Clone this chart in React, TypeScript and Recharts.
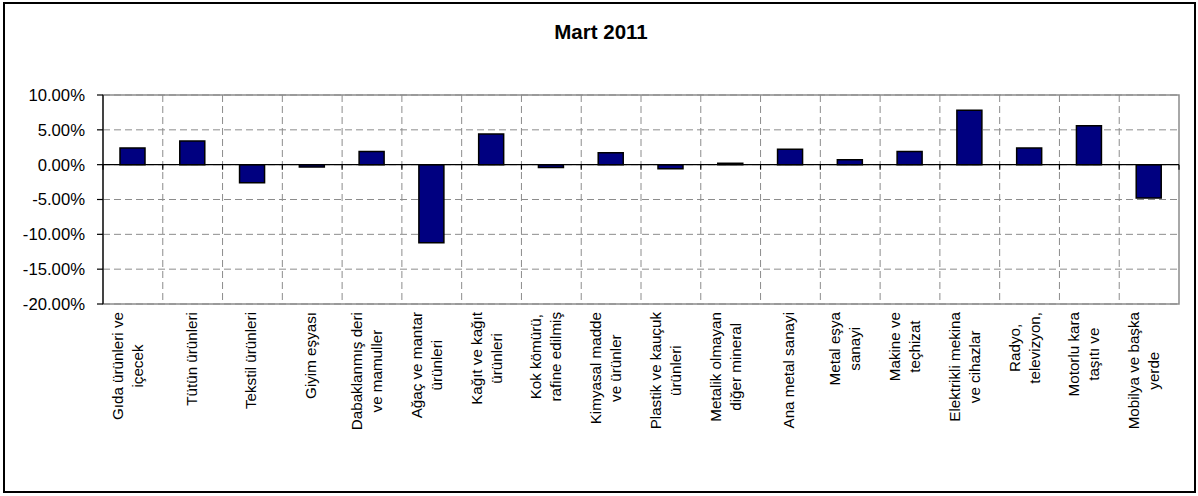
import React from 'react';
import {
  BarChart,
  Bar,
  XAxis,
  YAxis,
  CartesianGrid,
  ReferenceLine,
  ReferenceArea,
} from 'recharts';

// sector names, "\n" marks where the label wraps
const categories = [
  'Gıda ürünleri ve\niçecek',
  'Tütün ürünleri',
  'Tekstil ürünleri',
  'Giyim eşyası',
  'Dabaklanmış deri\nve mamuller',
  'Ağaç ve mantar\nürünleri',
  'Kağıt ve kağıt\nürünleri',
  'Kok kömürü,\nrafine edilmiş',
  'Kimyasal madde\nve ürünler',
  'Plastik ve kauçuk\nürünleri',
  'Metalik olmayan\ndiğer mineral',
  'Ana metal sanayi',
  'Metal eşya\nsanayi',
  'Makine ve\nteçhizat',
  'Elektrikli mekina\nve cihazlar',
  'Radyo,\ntelevizyon,',
  'Motorlu kara\ntaşıtı ve',
  'Mobilya ve başka\nyerde',
];

// change in percent, March 2011
const values = [2.4, 3.4, -2.6, -0.35, 1.9, -11.2, 4.4, -0.4, 1.7, -0.6, 0.2, 2.2, 0.7, 1.9, 7.8, 2.4, 5.6, -4.8];

const yTicks = [-20, -15, -10, -5, 0, 5, 10];

const data = categories.map((name, i) => ({ name, value: values[i] }));

const FONT = '"Liberation Sans", Arial, sans-serif';
const LABEL_SIZE = 15.2;
const LINE_GAP = 20;

const ctx = document.createElement('canvas').getContext('2d');
const measure = (s: string) => {
  if (!ctx) return s.length * LABEL_SIZE * 0.5;
  ctx.font = `${LABEL_SIZE}px "Liberation Sans"`;
  return ctx.measureText(s).width;
};

const CategoryTick = (props: any) => {
  const { x, y, payload } = props;
  const lines = String(payload.value).split('\n');
  const longest = Math.max(...lines.map(measure));
  const cy = y + longest / 2;
  const shift = lines.length > 1 ? 0 : 4;
  return (
    <g>
      {lines.map((line, i) => {
        const bx = x + shift + (i - (lines.length - 1) / 2) * LINE_GAP;
        return (
          <text
            key={i}
            x={0}
            y={0}
            transform={`translate(${bx},${cy}) rotate(-90)`}
            textAnchor="middle"
            fontFamily={FONT}
            fontSize={LABEL_SIZE}
            fill="#000"
          >
            {line}
          </text>
        );
      })}
    </g>
  );
};

// zero line with the little category ticks hanging under it
const ZeroLine = (props: any) => {
  const { x1, y1, x2, y2 } = props;
  const n = categories.length;
  const step = (x2 - x1) / n;
  const marks = [];
  for (let i = 0; i <= n; i++) {
    const xx = x1 + i * step;
    marks.push(<line key={i} x1={xx} x2={xx} y1={y1} y2={y1 + 5} stroke="#000" strokeWidth={1.2} />);
  }
  return (
    <g>
      <line x1={x1} y1={y1} x2={x2} y2={y2} stroke="#000" strokeWidth={1.2} />
      {marks}
    </g>
  );
};

export default function App() {
  return (
    <div style={{ position: 'absolute', left: 0, top: 0, width: 1198, height: 496, background: '#fff' }}>
      <div
        style={{
          position: 'absolute',
          left: 3,
          top: 2,
          width: 1189,
          height: 487,
          border: '2px solid #000',
        }}
      />
      <svg width={1198} height={60} style={{ position: 'absolute', left: 0, top: 0 }}>
        <text x={601} y={39} textAnchor="middle" fontFamily={FONT} fontWeight="bold" fontSize={20.5} fill="#000">
          Mart 2011
        </text>
      </svg>
      <div style={{ position: 'absolute', left: 0, top: 0 }}>
        <BarChart
          width={1198}
          height={496}
          data={data}
          margin={{ top: 95, right: 19, bottom: 42, left: 0 }}
        >
          <CartesianGrid
            stroke="#8c8c8c"
            strokeDasharray="7 4"
            verticalCoordinatesGenerator={({ offset }: any) =>
              categories.slice(1).map((_, i) => offset.left + ((i + 1) * offset.width) / categories.length)
            }
          />
          <ReferenceArea y1={-20} y2={10} fill="none" stroke="#8c8c8c" strokeWidth={1.5} ifOverflow="extendDomain" />
          <XAxis
            dataKey="name"
            interval={0}
            height={150}
            axisLine={false}
            tickLine={false}
            tickSize={6}
            tickMargin={2}
            tick={<CategoryTick />}
          />
          <YAxis
            domain={[-20, 10]}
            ticks={yTicks}
            width={103}
            axisLine={{ stroke: '#000', strokeWidth: 1.2 }}
            tickLine={{ stroke: '#000', strokeWidth: 1.2 }}
            tickSize={6}
            tickMargin={12}
            tick={{ fill: '#000', fontSize: 16.7, fontFamily: FONT }}
            tickFormatter={(v: number) => `${v.toFixed(2)}%`}
          />
          <Bar dataKey="value" fill="#000080" stroke="#000" strokeWidth={1.5} barSize={25} isAnimationActive={false} />
          <ReferenceLine y={0} shape={<ZeroLine />} />
        </BarChart>
      </div>
    </div>
  );
}
